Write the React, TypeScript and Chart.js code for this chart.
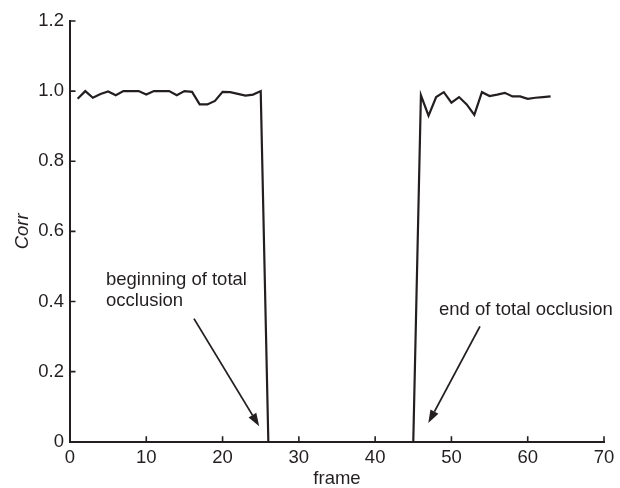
import React, { useEffect, useRef } from "react";
import { Chart, registerables } from "chart.js";

Chart.register(...registerables);

// Correlation per frame before the occluder covers the target
const beforeFrames = [1, 2, 3, 4, 5, 6, 7, 8, 9, 10, 11, 12, 13, 14, 15, 16, 17, 18, 19, 20, 21, 22, 23, 24, 25, 26];
const beforeCorr = [0.978, 1.0, 0.981, 0.992, 0.999, 0.988, 1.0, 1.0, 1.0, 0.99, 1.0, 1.0, 1.0, 0.988, 1.0, 0.998, 0.962, 0.962, 0.972, 0.998, 0.997, 0.992, 0.987, 0.99, 1.0, 0];

// Correlation per frame after the target reappears
const afterFrames = [45, 46, 47, 48, 49, 50, 51, 52, 53, 54, 55, 56, 57, 58, 59, 60, 61, 62, 63];
const afterCorr = [0, 0.988, 0.93, 0.983, 0.997, 0.967, 0.983, 0.962, 0.932, 0.997, 0.986, 0.99, 0.995, 0.985, 0.985, 0.978, 0.981, 0.983, 0.985];

const xTickValues = [0, 10, 20, 30, 40, 50, 60, 70];
const xTickLabels = ["0", "10", "20", "30", "40", "50", "60", "70"];
const yTickValues = [0, 0.2, 0.4, 0.6, 0.8, 1.0, 1.2];
const yTickLabels = ["0", "0.2", "0.4", "0.6", "0.8", "1.0", "1.2"];

// Callout texts and arrows, positioned in data units (frame, Corr)
const beginLines = ["beginning of total", "occlusion"];
const beginTextAt = [{ x: 4.72, y: 0.448 }, { x: 4.72, y: 0.386 }];
const beginArrow = { from: { x: 16.25, y: 0.351 }, to: { x: 24.8, y: 0.044 } };
const endLines = ["end of total occlusion"];
const endTextAt = [{ x: 48.37, y: 0.362 }];
const endArrow = { from: { x: 53.74, y: 0.329 }, to: { x: 46.97, y: 0.053 } };

const INK = "#231f20";
const FONT_FAMILY = "'Liberation Sans', Arial, Helvetica, sans-serif";
const FONT_SIZE = 18.5;

const toPoints = (xs: number[], ys: number[]) => xs.map((x, i) => ({ x, y: ys[i] }));

const inwardTicks = {
  id: "inwardTicks",
  afterDraw(chart: any) {
    const { ctx, scales } = chart;
    const xs = scales.x;
    const ys = scales.y;
    const len = 5.5;
    ctx.save();
    ctx.strokeStyle = INK;
    ctx.lineWidth = 1.6;
    ctx.beginPath();
    xTickValues.forEach((v) => {
      const px = xs.getPixelForValue(v);
      ctx.moveTo(px, ys.bottom);
      ctx.lineTo(px, ys.bottom - len);
    });
    yTickValues.forEach((v) => {
      const py = ys.getPixelForValue(v);
      ctx.moveTo(xs.left, py);
      ctx.lineTo(xs.left + len, py);
    });
    ctx.stroke();
    ctx.restore();
  },
};

const callouts = {
  id: "callouts",
  afterDraw(chart: any) {
    const { ctx, scales } = chart;
    const px = (p: { x: number; y: number }) => ({
      x: scales.x.getPixelForValue(p.x),
      y: scales.y.getPixelForValue(p.y),
    });
    ctx.save();
    ctx.fillStyle = INK;
    ctx.strokeStyle = INK;
    ctx.font = `${FONT_SIZE}px ${FONT_FAMILY}`;
    ctx.textAlign = "left";
    ctx.textBaseline = "alphabetic";
    const writeLines = (lines: string[], at: { x: number; y: number }[]) => {
      lines.forEach((t, i) => {
        const p = px(at[i]);
        ctx.fillText(t, p.x, p.y);
      });
    };
    writeLines(beginLines, beginTextAt);
    writeLines(endLines, endTextAt);

    const arrow = (a: { from: { x: number; y: number }; to: { x: number; y: number } }) => {
      const f = px(a.from);
      const t = px(a.to);
      const ang = Math.atan2(t.y - f.y, t.x - f.x);
      const head = 13;
      const half = 4.5;
      const bx = t.x - head * Math.cos(ang);
      const by = t.y - head * Math.sin(ang);
      ctx.lineWidth = 1.8;
      ctx.beginPath();
      ctx.moveTo(f.x, f.y);
      ctx.lineTo(bx, by);
      ctx.stroke();
      ctx.beginPath();
      ctx.moveTo(t.x, t.y);
      ctx.lineTo(bx + half * Math.sin(ang), by - half * Math.cos(ang));
      ctx.lineTo(bx - half * Math.sin(ang), by + half * Math.cos(ang));
      ctx.closePath();
      ctx.fill();
    };
    arrow(beginArrow);
    arrow(endArrow);
    ctx.restore();
  },
};

export default function App() {
  const canvasRef = useRef<HTMLCanvasElement | null>(null);

  useEffect(() => {
    if (!canvasRef.current) return;
    const lineStyle = {
      borderColor: INK,
      borderWidth: 2.2,
      pointRadius: 0,
      tension: 0,
      fill: false,
    };
    const chart = new Chart(canvasRef.current, {
      type: "line",
      data: {
        datasets: [
          { label: "before", data: toPoints(beforeFrames, beforeCorr), ...lineStyle },
          { label: "after", data: toPoints(afterFrames, afterCorr), ...lineStyle },
        ],
      },
      options: {
        animation: false,
        responsive: false,
        layout: { padding: { top: 21, right: 16, left: 0, bottom: 0 } },
        plugins: { legend: { display: false }, tooltip: { enabled: false } },
        scales: {
          x: {
            type: "linear",
            min: 0,
            max: 70,
            afterBuildTicks: (s: any) => {
              s.ticks = xTickValues.map((v) => ({ value: v }));
            },
            afterFit: (s: any) => {
              s.height = 46.3;
            },
            grid: { display: false, drawTicks: false },
            border: { display: true, color: INK, width: 2 },
            ticks: {
              color: INK,
              padding: 5,
              maxRotation: 0,
              font: { family: FONT_FAMILY, size: FONT_SIZE },
              callback: (v: any) => xTickLabels[xTickValues.indexOf(Number(v))] ?? "",
            },
            title: {
              display: true,
              text: "frame",
              color: INK,
              padding: { top: 0, bottom: 0 },
              font: { family: FONT_FAMILY, size: FONT_SIZE, lineHeight: 1.0 },
            },
          },
          y: {
            type: "linear",
            min: 0,
            max: 1.2,
            afterBuildTicks: (s: any) => {
              s.ticks = yTickValues.map((v) => ({ value: v }));
            },
            afterFit: (s: any) => {
              s.width = 70;
            },
            grid: { display: false, drawTicks: false },
            border: { display: true, color: INK, width: 2 },
            ticks: {
              color: INK,
              padding: 6,
              font: { family: FONT_FAMILY, size: FONT_SIZE },
              callback: (v: any) => {
                const i = yTickValues.findIndex((t) => Math.abs(t - Number(v)) < 1e-6);
                return i >= 0 ? yTickLabels[i] : "";
              },
            },
            title: {
              display: true,
              text: "Corr",
              color: INK,
              padding: { top: 12, bottom: 0 },
              font: { family: FONT_FAMILY, size: FONT_SIZE, style: "italic" },
            },
          },
        },
      },
      plugins: [inwardTicks, callouts],
    });
    return () => chart.destroy();
  }, []);

  return (
    <div style={{ position: "fixed", left: 0, top: 0, width: 620, height: 488, background: "#fff" }}>
      <canvas ref={canvasRef} width={620} height={488} style={{ width: 620, height: 488, display: "block" }} />
    </div>
  );
}
